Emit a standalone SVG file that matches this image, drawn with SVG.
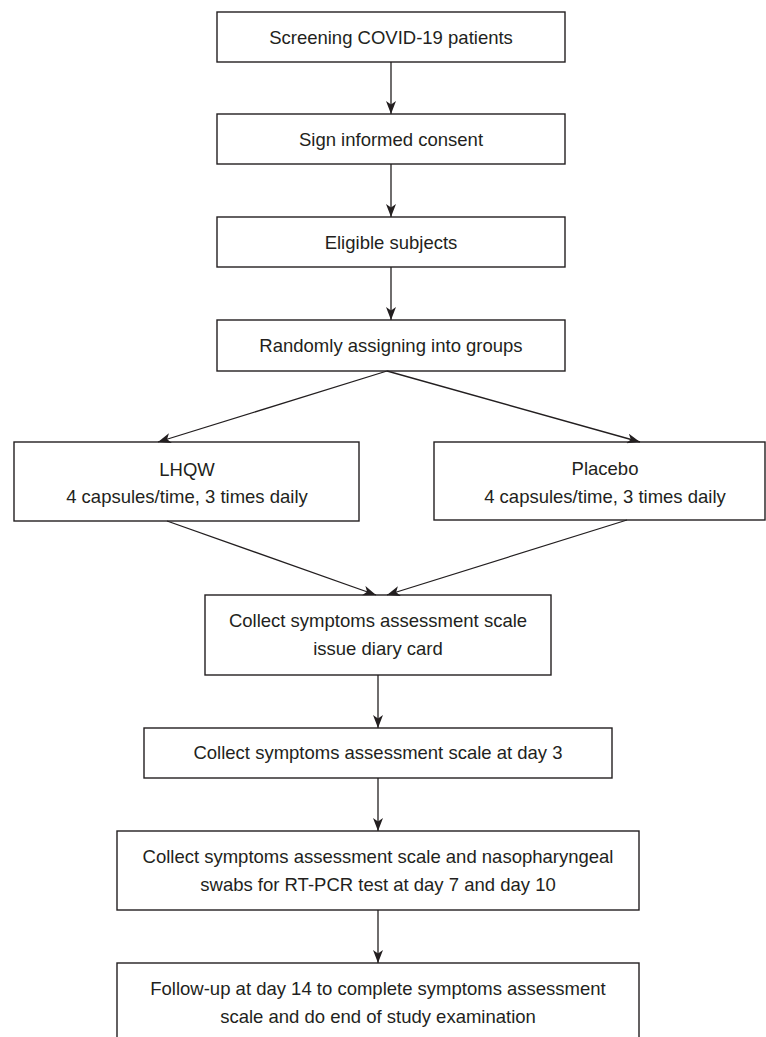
<svg xmlns="http://www.w3.org/2000/svg" width="766" height="1037" viewBox="0 0 766 1037">
<style>
.box{fill:#fff;stroke:#231f20;stroke-width:1.4}
.t{font-family:"Liberation Sans",Arial,sans-serif;font-size:18.5px;fill:#231f20;text-anchor:middle}
.c{stroke:#231f20;stroke-width:1.3;fill:none;marker-end:url(#ah)}
</style>
<defs>
<marker id="ah" viewBox="0 0 13 10" refX="13" refY="5" markerWidth="13" markerHeight="10" markerUnits="userSpaceOnUse" orient="auto">
<path d="M0,0 L13,5 L0,10 L3.5,5 z" fill="#231f20"/>
</marker>
</defs>
<rect width="766" height="1037" fill="#fff"/>
<g id="n1"><rect class="box" x="217" y="12" width="348" height="50"/><text class="t" x="391" y="43.5">Screening COVID-19 patients</text></g>
<g id="n2"><rect class="box" x="217" y="114" width="348" height="50"/><text class="t" x="391" y="146">Sign informed consent</text></g>
<g id="n3"><rect class="box" x="217" y="217" width="348" height="50"/><text class="t" x="391" y="248.5">Eligible subjects</text></g>
<g id="n4"><rect class="box" x="217" y="320" width="348" height="51"/><text class="t" x="391" y="352">Randomly assigning into groups</text></g>
<g id="n5"><rect class="box" x="14" y="442" width="345" height="79"/><text class="t" x="187" y="476">LHQW</text><text class="t" x="187" y="503">4 capsules/time, 3 times daily</text></g>
<g id="n6"><rect class="box" x="434" y="442" width="331" height="78"/><text class="t" x="605" y="475">Placebo</text><text class="t" x="605" y="503">4 capsules/time, 3 times daily</text></g>
<g id="n7"><rect class="box" x="205" y="595" width="346" height="80"/><text class="t" x="378" y="627">Collect symptoms assessment scale</text><text class="t" x="378" y="655">issue diary card</text></g>
<g id="n8"><rect class="box" x="144" y="728" width="468" height="50"/><text class="t" x="378" y="758.5">Collect symptoms assessment scale at day 3</text></g>
<g id="n9"><rect class="box" x="117" y="831" width="522" height="79"/><text class="t" x="378" y="863">Collect symptoms assessment scale and nasopharyngeal</text><text class="t" x="378" y="890.5">swabs for RT-PCR test at day 7 and day 10</text></g>
<g id="n10"><rect class="box" x="117" y="963" width="522" height="90"/><text class="t" x="378" y="995">Follow-up at day 14 to complete symptoms assessment</text><text class="t" x="378" y="1023">scale and do end of study examination</text></g>
<g id="connectors">
<line class="c" x1="391" y1="62" x2="391" y2="114"/>
<line class="c" x1="391" y1="164" x2="391" y2="217"/>
<line class="c" x1="391" y1="267" x2="391" y2="320"/>
<line class="c" x1="387" y1="371" x2="158" y2="442"/>
<line class="c" x1="387" y1="371" x2="640" y2="442"/>
<line class="c" x1="167" y1="521" x2="376" y2="595"/>
<line class="c" x1="627" y1="520" x2="387" y2="595"/>
<line class="c" x1="378" y1="675" x2="378" y2="728"/>
<line class="c" x1="378" y1="778" x2="378" y2="831"/>
<line class="c" x1="378" y1="910" x2="378" y2="963"/>
</g>
</svg>
